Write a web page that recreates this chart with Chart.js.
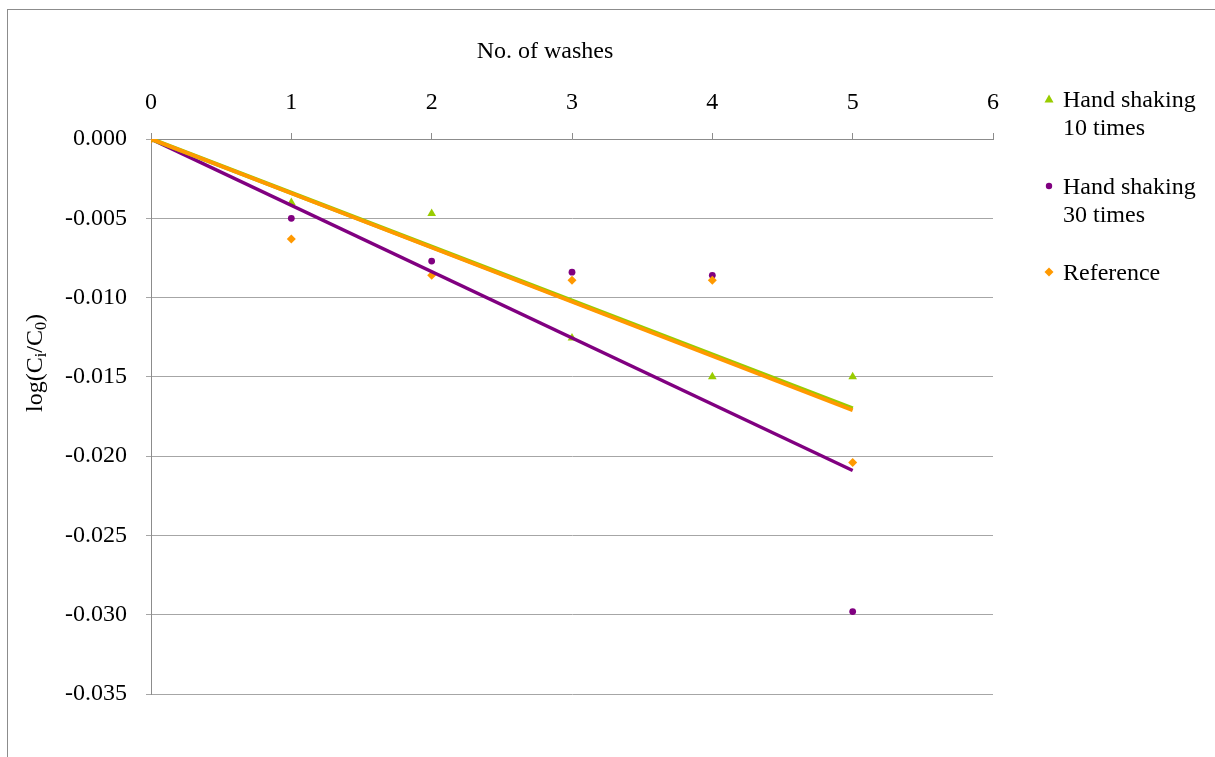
<!DOCTYPE html>
<html>
<head>
<meta charset="utf-8">
<script src="https://cdn.jsdelivr.net/npm/chart.js@4.4.1/dist/chart.umd.min.js"></script>
<style>
  html, body { margin: 0; padding: 0; background: #fff; }
  #wrap { position: relative; width: 1215px; height: 757px; }
  #frame { position: absolute; left: 7px; top: 9px; right: -2px; bottom: -2px; border-top: 1px solid #8c8c8c; border-left: 1px solid #8c8c8c; pointer-events: none; }
  canvas { position: absolute; left: 0; top: 0; }
</style>
</head>
<body>
<div id="wrap">
  <canvas id="c" width="1215" height="757"></canvas>
  <div id="frame"></div>
</div>
<script>
// ---- data ----
const washes = [0, 1, 2, 3, 4, 5];
const shake10 = [0, -0.0040, -0.0047, -0.01255, -0.0150, -0.0150];
const shake30 = [0, -0.0050, -0.0077, -0.0084, -0.0086, -0.0298];
const reference = [0, -0.0063, -0.0086, -0.0089, -0.0089, -0.0204];
// linear trend lines (through origin), end points at x = 0 and x = 5
const trendX = [0, 5];
const trend10 = [0, -0.0170];
const trend30 = [0, -0.0209];
const trendRef = [0, -0.0171];
const xTicks = [0, 1, 2, 3, 4, 5, 6];
const yTicks = [0, -0.005, -0.010, -0.015, -0.020, -0.025, -0.030, -0.035];
const legendNames = [["Hand shaking", "10 times"], ["Hand shaking", "30 times"], ["Reference"]];
const xTitle = "No. of washes";

const GREEN = "#99cc00", PURPLE = "#800080", ORANGE = "#ff9900";
const FONT = "Liberation Serif";
const FS = 24;

const pts = (xs, ys) => xs.map((x, i) => ({ x: x, y: ys[i] }));

const titlesPlugin = {
  id: "titles",
  afterDraw(chart) {
    const ctx = chart.ctx;
    ctx.save();
    ctx.fillStyle = "#000";
    ctx.font = FS + "px '" + FONT + "'";
    ctx.textAlign = "center";
    ctx.textBaseline = "middle";
    ctx.fillText(xTitle, 545, 52);

    // y title with subscripts, rotated
    ctx.translate(35, 363);
    ctx.rotate(-Math.PI / 2);
    const parts = [["log(C", 0], ["i", 1], ["/C", 0], ["0", 1], [")", 0]];
    const big = FS + "px '" + FONT + "'";
    const small = Math.round(FS * 0.65) + "px '" + FONT + "'";
    let total = 0;
    parts.forEach(p => { ctx.font = p[1] ? small : big; total += ctx.measureText(p[0]).width; });
    let x = -total / 2;
    ctx.textAlign = "left";
    ctx.textBaseline = "alphabetic";
    parts.forEach(p => {
      ctx.font = p[1] ? small : big;
      ctx.fillText(p[0], x, p[1] ? 11 : 7);
      x += ctx.measureText(p[0]).width;
    });
    ctx.restore();

    // legend
    ctx.save();
    ctx.font = FS + "px '" + FONT + "'";
    ctx.textAlign = "left";
    ctx.textBaseline = "middle";
    ctx.fillStyle = "#000";
    const rows = [101, 188, 274];
    const colors = [GREEN, PURPLE, ORANGE];
    legendNames.forEach((lines, i) => {
      const y0 = rows[i];
      lines.forEach((t, j) => ctx.fillText(t, 1063, y0 + j * 28));
      ctx.fillStyle = colors[i];
      const mx = 1049, my = y0 - 2;
      ctx.beginPath();
      if (i === 0) { ctx.moveTo(mx, my - 4.5); ctx.lineTo(mx + 4.5, my + 3.5); ctx.lineTo(mx - 4.5, my + 3.5); }
      else if (i === 1) { ctx.arc(mx, my, 3.2, 0, Math.PI * 2); }
      else { ctx.moveTo(mx, my - 4.5); ctx.lineTo(mx + 4.5, my); ctx.lineTo(mx, my + 4.5); ctx.lineTo(mx - 4.5, my); }
      ctx.closePath();
      ctx.fill();
      ctx.fillStyle = "#000";
    });
    ctx.restore();
  }
};

new Chart(document.getElementById("c"), {
  type: "scatter",
  data: {
    datasets: [
      { label: "trendRef", data: pts(trendX, trendRef), showLine: true, borderColor: ORANGE, borderWidth: 3.8, pointRadius: 0, order: 0 },
      { label: "trend10", data: pts(trendX, trend10), showLine: true, borderColor: GREEN, borderWidth: 4.4, pointRadius: 0, order: 1 },
      { label: "trend30", data: pts(trendX, trend30), showLine: true, borderColor: PURPLE, borderWidth: 3.4, pointRadius: 0, order: 2 },
      { label: "Reference", data: pts(washes, reference), pointStyle: "rectRot", pointRadius: 4.5, backgroundColor: ORANGE, borderColor: ORANGE, borderWidth: 0, order: 3 },
      { label: "Hand shaking 30 times", data: pts(washes, shake30), pointStyle: "circle", pointRadius: 3.4, backgroundColor: PURPLE, borderColor: PURPLE, borderWidth: 0, order: 4 },
      { label: "Hand shaking 10 times", data: pts(washes, shake10), pointStyle: "triangle", pointRadius: 5, backgroundColor: GREEN, borderColor: GREEN, borderWidth: 0, order: 5 }
    ]
  },
  options: {
    responsive: false,
    animation: false,
    layout: { padding: { left: 0, right: 222, top: 0, bottom: 63 } },
    plugins: { legend: { display: false }, tooltip: { enabled: false } },
    scales: {
      x: {
        type: "linear", position: "top", min: 0, max: 6,
        afterBuildTicks: s => { s.ticks = xTicks.map(v => ({ value: v })); },
        afterFit: s => { s.height = 139; },
        ticks: { color: "#000", font: { family: FONT, size: FS }, padding: 16, maxRotation: 0 },
        grid: { drawOnChartArea: false, drawTicks: true, tickLength: 6, color: "#8c8c8c" },
        border: { display: true, color: "#8c8c8c", width: 1 }
      },
      y: {
        type: "linear", min: -0.035, max: 0,
        afterBuildTicks: s => { s.ticks = yTicks.map(v => ({ value: v })); },
        afterFit: s => { s.width = 151; },
        ticks: { color: "#000", font: { family: FONT, size: FS }, padding: 19, callback: v => (Math.abs(v) < 1e-9 ? 0 : v).toFixed(3) },
        grid: { drawOnChartArea: true, drawTicks: true, tickLength: 5, color: "#a6a6a6" },
        border: { display: true, color: "#8c8c8c", width: 1 }
      }
    }
  },
  plugins: [titlesPlugin]
});
</script>
</body>
</html>
